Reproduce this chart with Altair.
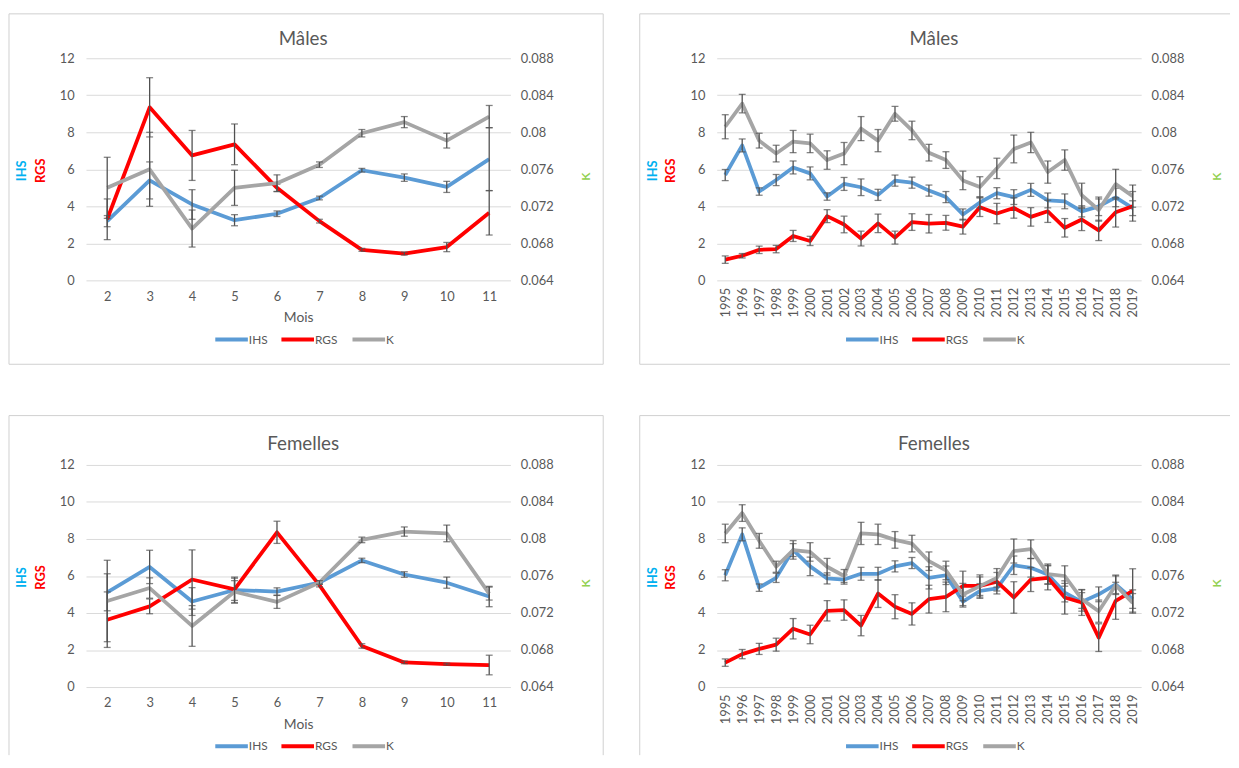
import altair as alt
import pandas as pd

SERIES = ["IHS", "RGS", "K"]
COLORS = ["#5B9BD5", "#FF0000", "#A5A5A5"]

MONTHS = ["2", "3", "4", "5", "6", "7", "8", "9", "10", "11"]
YEARS = ["1995", "1996", "1997", "1998", "1999", "2000", "2001", "2002", "2003",
         "2004", "2005", "2006", "2007", "2008", "2009", "2010", "2011", "2012",
         "2013", "2014", "2015", "2016", "2017", "2018", "2019"]

# ---- Mâles, par mois ----
mm_ihs = [3.2, 5.4, 4.1, 3.25, 3.6, 4.45, 5.95, 5.55, 5.05, 6.55]
mm_ihs_e = [0.3, 1.0, 0.8, 0.3, 0.15, 0.1, 0.1, 0.2, 0.3, 1.7]
mm_rgs = [3.3, 9.35, 6.75, 7.35, 5.0, 3.2, 1.65, 1.45, 1.8, 3.65]
mm_rgs_e = [1.1, 1.6, 1.35, 1.1, 0.2, 0.1, 0.08, 0.08, 0.25, 1.2]
mm_k = [0.0740, 0.0760, 0.0696, 0.0740, 0.0745, 0.0765, 0.0799, 0.0811, 0.0791, 0.0817]
mm_k_e = [0.0033, 0.0040, 0.0020, 0.0019, 0.0009, 0.0003, 0.0004, 0.0006, 0.0008, 0.0012]

# ---- Femelles, par mois ----
fm_ihs = [5.12, 6.49, 4.62, 5.24, 5.16, 5.65, 6.84, 6.08, 5.64, 4.89]
fm_ihs_e = [1.0, 0.9, 0.75, 0.7, 0.2, 0.1, 0.12, 0.15, 0.3, 0.55]
fm_rgs = [3.64, 4.36, 5.81, 5.28, 8.36, 5.51, 2.22, 1.33, 1.24, 1.19]
fm_rgs_e = [1.5, 0.4, 1.6, 0.6, 0.6, 0.1, 0.12, 0.07, 0.05, 0.53]
fm_k = [0.0733, 0.0747, 0.0706, 0.0743, 0.0732, 0.0753, 0.0799, 0.0808, 0.0806, 0.0741]
fm_k_e = [0.0044, 0.0011, 0.0022, 0.0012, 0.0007, 0.0002, 0.0003, 0.0005, 0.0009, 0.0007]

# ---- Mâles, par année ----
my_ihs = [5.69, 7.29, 4.8, 5.42, 6.1, 5.78, 4.53, 5.21, 5.03, 4.62, 5.39, 5.28, 4.85,
          4.5, 3.56, 4.21, 4.71, 4.5, 4.89, 4.32, 4.27, 3.73, 4.0, 4.48, 3.9]
my_ihs_e = [0.3, 0.35, 0.2, 0.3, 0.35, 0.35, 0.2, 0.35, 0.45, 0.3, 0.3, 0.3, 0.3,
            0.3, 0.3, 0.3, 0.3, 0.4, 0.35, 0.4, 0.4, 0.3, 0.5, 0.5, 0.4]
my_rgs = [1.12, 1.33, 1.65, 1.69, 2.4, 2.13, 3.47, 3.02, 2.26, 3.08, 2.31, 3.15, 3.06,
          3.11, 2.9, 3.95, 3.61, 3.91, 3.43, 3.73, 2.84, 3.29, 2.7, 3.68, 4.0]
my_rgs_e = [0.2, 0.12, 0.2, 0.2, 0.3, 0.25, 0.35, 0.45, 0.4, 0.5, 0.35, 0.45, 0.5,
            0.4, 0.4, 0.5, 0.55, 0.55, 0.5, 0.6, 0.5, 0.6, 0.55, 0.8, 0.8]
my_k = [0.0806, 0.0831, 0.0791, 0.0777, 0.0790, 0.0788, 0.0770, 0.0777, 0.0804, 0.0791,
        0.0820, 0.0802, 0.0778, 0.0770, 0.0748, 0.0741, 0.0761, 0.0782, 0.0789, 0.0757,
        0.0770, 0.0732, 0.0716, 0.0744, 0.0731]
my_k_e = [0.0013, 0.0010, 0.0008, 0.0009, 0.0012, 0.0010, 0.0010, 0.0012, 0.0013, 0.0012,
          0.0008, 0.0010, 0.0009, 0.0009, 0.0010, 0.0011, 0.0011, 0.0015, 0.0011, 0.0012,
          0.0011, 0.0013, 0.0012, 0.0016, 0.0012]

# ---- Femelles, par année ----
fy_ihs = [6.04, 8.25, 5.37, 5.9, 7.41, 6.52, 5.87, 5.81, 6.12, 6.12, 6.52, 6.7, 5.9,
          6.04, 4.62, 5.19, 5.33, 6.58, 6.44, 6.08, 5.1, 4.6, 5.01, 5.55, 4.75]
fy_ihs_e = [0.3, 0.35, 0.2, 0.25, 0.5, 0.5, 0.3, 0.25, 0.35, 0.35, 0.3, 0.3, 0.6,
            0.5, 0.3, 0.4, 0.3, 0.5, 0.5, 0.5, 0.5, 0.5, 0.4, 0.5, 0.5]
fy_rgs = [1.32, 1.78, 2.06, 2.29, 3.15, 2.84, 4.12, 4.16, 3.32, 5.05, 4.34, 3.95, 4.75,
          4.87, 5.46, 5.46, 5.69, 4.84, 5.81, 5.9, 4.84, 4.57, 2.67, 4.66, 5.19]
fy_rgs_e = [0.2, 0.25, 0.3, 0.35, 0.55, 0.5, 0.55, 0.55, 0.55, 0.75, 0.65, 0.6, 0.75,
            0.8, 0.8, 0.6, 0.5, 0.85, 0.65, 0.65, 0.9, 0.7, 0.75, 1.0, 1.2]
fy_k = [0.0806, 0.0828, 0.0798, 0.0770, 0.0788, 0.0786, 0.0770, 0.0760, 0.0806, 0.0805,
        0.0799, 0.0795, 0.0776, 0.0766, 0.0740, 0.0749, 0.0758, 0.0787, 0.0789, 0.0762,
        0.0760, 0.0735, 0.0722, 0.0750, 0.0731]
fy_k_e = [0.0010, 0.0009, 0.0008, 0.0006, 0.0007, 0.0010, 0.0009, 0.0007, 0.0012, 0.0011,
          0.0009, 0.0009, 0.0010, 0.0010, 0.0012, 0.0010, 0.0010, 0.0013, 0.0010, 0.0011,
          0.0011, 0.0010, 0.0012, 0.0010, 0.0010]

LEFT_TICKS = [0, 2, 4, 6, 8, 10, 12]
RIGHT_TICKS = [0.064, 0.068, 0.072, 0.076, 0.08, 0.084, 0.088]

W, H = 430, 225
FONT = "Lato"
TXT = "#595959"
GRID = "#d9d9d9"
BOX = "#cfcfcf"
ERR = "#505050"
one = pd.DataFrame({"a": [0]})


def frame(cats, ihs, ihs_e, rgs, rgs_e, k, k_e):
    rows = []
    for name, vals, errs in (("IHS", ihs, ihs_e), ("RGS", rgs, rgs_e), ("K", k, k_e)):
        for c, v, e in zip(cats, vals, errs):
            rows.append({"x": c, "s": name, "v": v, "lo": v - e, "hi": v + e})
    return pd.DataFrame(rows)


def txt(text, x, y, size, color, angle=0, weight="normal", align="center"):
    return alt.Chart(one).mark_text(
        fontSize=size, color=color, angle=angle, fontWeight=weight, font=FONT,
        align=align, baseline="middle"
    ).encode(x=alt.value(x), y=alt.value(y), text=alt.value(text))


def vrule(x, y0, y1, color=BOX, w=1):
    return alt.Chart(one).mark_rule(color=color, strokeWidth=w).encode(
        x=alt.value(x), y=alt.value(y0), y2=alt.value(y1))


def hrule(x0, x1, y, color=BOX, w=1):
    return alt.Chart(one).mark_rule(color=color, strokeWidth=w).encode(
        x=alt.value(x0), x2=alt.value(x1), y=alt.value(y))


def legend_items():
    items = []
    starts = [131, 198, 270]
    for name, col, x0 in zip(SERIES, COLORS, starts):
        items.append(hrule(x0, x0 + 33, 285, color=col, w=4))
        items.append(txt(name, x0 + 34, 285, 12, TXT, align="left"))
    return items


def panel(cats, data, title, xtitle, rotated, col, row):
    df = frame(cats, *data)
    dl = df[df.s != "K"]
    dk = df[df.s == "K"]

    top = -45 if row == 0 else -50
    xr = 524 if col == 0 else 498
    yb = 310 if row == 0 else 294
    deco = [alt.Chart(one).mark_rect(opacity=0).encode(
        x=alt.value(-78), x2=alt.value(xr), y=alt.value(top), y2=alt.value(yb))]
    deco.append(hrule(-78, xr if col == 0 else 520, top))
    deco.append(vrule(-78, top, yb))
    if col == 0:
        deco.append(vrule(524, top, yb))
    if row == 0:
        deco.append(hrule(-78, xr if col == 0 else 520, yb))
    deco.append(txt(title, 220, -19 if row == 0 else -21, 19, TXT))
    deco.append(txt("IHS", -65, 114, 13, "#00B0F0", angle=270, weight="bold"))
    deco.append(txt("RGS", -46, 114, 13, "#FF0000", angle=270, weight="bold"))
    deco.append(txt("K", 507, 120, 12, "#92D050", angle=270, weight="bold"))
    deco += legend_items()

    xaxis = alt.Axis(
        title=xtitle, labelAngle=-90 if rotated else 0, domain=False, ticks=False,
        tickSize=0, labelPadding=7 if rotated else 10, labelFontSize=13,
        labelColor=TXT, titleColor=TXT, titleFontSize=14, titleFontWeight="normal",
        titlePadding=8, grid=False)
    X = alt.X("x:O", sort=cats, scale=alt.Scale(type="point", padding=0.5), axis=xaxis)

    laxis = alt.Axis(title=None, values=LEFT_TICKS, domain=False, ticks=False, tickSize=0,
                     labelPadding=12, labelFontSize=13, labelColor=TXT, grid=True,
                     gridColor=GRID, gridWidth=1)
    lscale = alt.Scale(domain=[0, 12], nice=False)
    raxis = alt.Axis(title=None, orient="right", values=RIGHT_TICKS, format=".3~f",
                     domain=False, ticks=False, tickSize=0, labelPadding=10,
                     labelFontSize=13, labelColor=TXT, grid=False)
    rscale = alt.Scale(domain=[0.064, 0.088], nice=False, zero=False)

    color = alt.Color("s:N", scale=alt.Scale(domain=SERIES, range=COLORS), legend=None)

    def group(d, scale, axis):
        line = alt.Chart(d).mark_line(strokeWidth=3.8, strokeJoin="round").encode(
            x=X, y=alt.Y("v:Q", scale=scale, axis=axis), color=color, detail="s:N")
        bar = alt.Chart(d).mark_rule(color=ERR, strokeWidth=1.3).encode(
            x=X, y=alt.Y("lo:Q", scale=scale, axis=axis), y2="hi:Q")
        cap1 = alt.Chart(d).mark_tick(color=ERR, size=7, thickness=1.3).encode(
            x=X, y=alt.Y("lo:Q", scale=scale, axis=axis))
        cap2 = alt.Chart(d).mark_tick(color=ERR, size=7, thickness=1.3).encode(
            x=X, y=alt.Y("hi:Q", scale=scale, axis=axis))
        return alt.layer(line, bar, cap1, cap2)

    left = group(dl, lscale, laxis)
    right = group(dk, rscale, raxis)
    return alt.layer(*deco, left, right).resolve_scale(y="independent").properties(
        width=W, height=H)


p1 = panel(MONTHS, (mm_ihs, mm_ihs_e, mm_rgs, mm_rgs_e, mm_k, mm_k_e), "Mâles", "Mois", False, 0, 0)
p2 = panel(YEARS, (my_ihs, my_ihs_e, my_rgs, my_rgs_e, my_k, my_k_e), "Mâles", None, True, 1, 0)
p3 = panel(MONTHS, (fm_ihs, fm_ihs_e, fm_rgs, fm_rgs_e, fm_k, fm_k_e), "Femelles", "Mois", False, 0, 1)
p4 = panel(YEARS, (fy_ihs, fy_ihs_e, fy_rgs, fy_rgs_e, fy_k, fy_k_e), "Femelles", None, True, 1, 1)

chart = alt.concat(p1, p2, p3, p4, columns=2, spacing={"row": 50, "column": 35}).resolve_scale(
    color="independent"
).properties(
    padding={"left": 0, "top": 0, "right": 0, "bottom": 0},
    background="white",
).configure_view(stroke=None).configure_axis(labelFont=FONT, titleFont=FONT)

chart.save("out.html", embed_options={"renderer": "svg", "actions": False})
